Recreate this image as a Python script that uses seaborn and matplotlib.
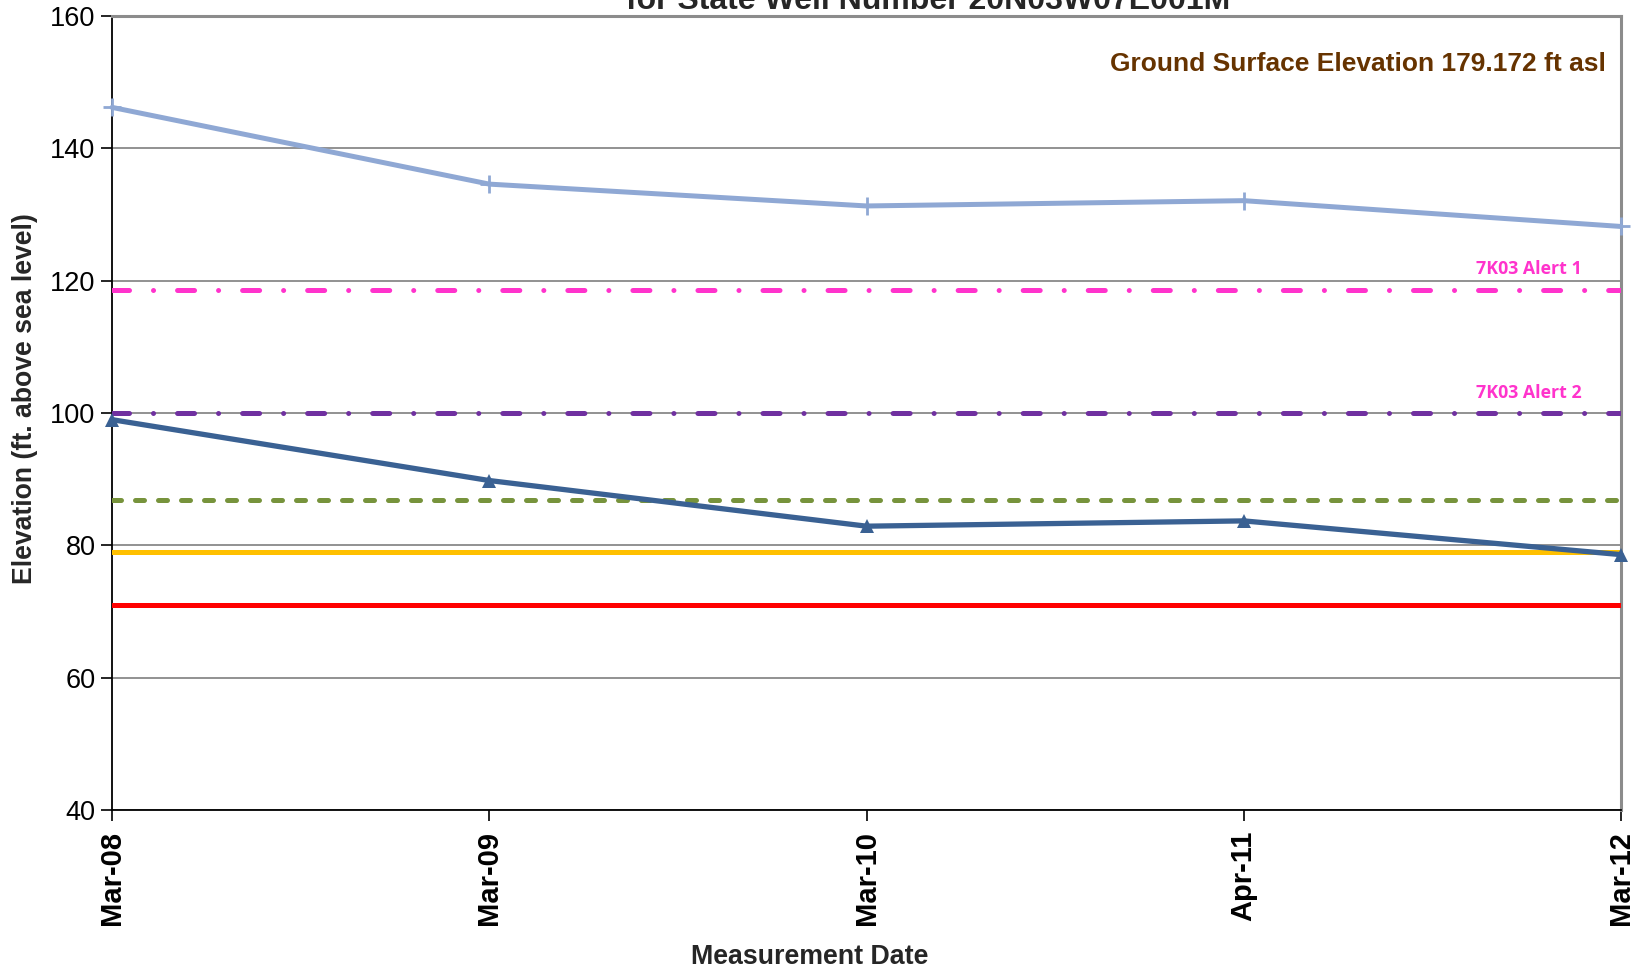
import numpy as np
import pandas as pd
import matplotlib
matplotlib.use('Agg')
import matplotlib.pyplot as plt
import seaborn as sns

# measurement dates (category axis, evenly spaced)
dates = ['Mar-08', 'Mar-09', 'Mar-10', 'Apr-11', 'Mar-12']
upper_series = [146.2, 134.6, 131.3, 132.1, 128.2]
lower_series = [99.0, 89.8, 82.9, 83.7, 78.6]

# horizontal threshold lines
alert1 = 118.6
alert2 = 100.0
green_level = 86.8
yellow_level = 79.0
red_level = 71.0

sns.set_theme(style='white')
plt.rcParams['font.family'] = ['Liberation Sans', 'DejaVu Sans']

fig = plt.figure(figsize=(16.43, 9.68), dpi=100)
ax = fig.add_axes([0.0682, 0.1632, 0.9184, 0.8202])

pos = np.arange(len(dates))
df = pd.DataFrame({'pos': pos, 'upper': upper_series, 'lower': lower_series})

ax.set_ylim(40, 160)
ax.set_xlim(0, len(dates) - 1)
ax.set_yticks(np.arange(40, 161, 20))
ax.grid(axis='y', color='#7f7f7f', lw=1.2)
ax.grid(axis='x', visible=False)
ax.set_axisbelow(True)

lw = 3.6
ax.axhline(red_level, color='#ff0000', lw=lw, zorder=3)
ax.axhline(yellow_level, color='#ffc000', lw=lw, zorder=4)
ax.axhline(green_level, color='#77933c', lw=lw, ls=(0, (1.8, 2.8)),
           dash_capstyle='round', zorder=3)
dashdot = (0, (3.4, 4.8, 0.01, 4.8))
ax.axhline(alert2, color='#7030a0', lw=lw, ls=dashdot,
           dash_capstyle='round', zorder=3)
ax.axhline(alert1, color='#ff33cc', lw=lw, ls=dashdot,
           dash_capstyle='round', zorder=3)

sns.lineplot(data=df, x='pos', y='upper', ax=ax, color='#8fa8d4', lw=3.6,
             marker='+', markersize=13, markeredgewidth=2,
             markeredgecolor='#8fa8d4', clip_on=False, zorder=5)
sns.lineplot(data=df, x='pos', y='lower', ax=ax, color='#3a6193', lw=3.8,
             marker='^', markersize=10.5, markeredgewidth=0,
             clip_on=False, zorder=5)

ax.set_xticks(pos)
ax.set_xticklabels(dates, rotation=90, fontsize=21, fontweight='bold',
                   va='top', ha='center')
ax.tick_params(axis='x', length=8, width=1.2, color='black', pad=7,
               bottom=True, direction='out', labelcolor='black')
ax.tick_params(axis='y', length=8, width=1.2, color='black', pad=4,
               left=True, direction='out', labelsize=19.5, labelcolor='black')

ax.set_xlabel('Measurement Date', fontsize=19.3, fontweight='bold',
              va='top')
ax.set_ylabel('Elevation (ft. above sea level)', fontsize=19.2,
              fontweight='bold')
ax.xaxis.set_label_coords(0.4626, -0.169)
ax.yaxis.set_label_coords(-0.049, 0.518)

for side in ['left', 'bottom']:
    ax.spines[side].set_color('black')
    ax.spines[side].set_linewidth(1.3)
for side in ['top', 'right']:
    ax.spines[side].set_color('#8c8c8c')
    ax.spines[side].set_linewidth(2.2)

ax.text(0.990, 152.7, 'Ground Surface Elevation 179.172 ft asl',
        transform=ax.get_yaxis_transform(), ha='right', va='center',
        fontsize=19, fontweight='bold', color='#663300')

label_font = ['Open Sans', 'DejaVu Sans']
ax.text(3.756, alert1 + 3.1, '7K03 Alert 1', ha='center', va='center',
        fontsize=12.8, fontweight='bold', color='#ff33cc', family=label_font)
ax.text(3.756, alert2 + 3.1, '7K03 Alert 2', ha='center', va='center',
        fontsize=12.8, fontweight='bold', color='#ff33cc', family=label_font)

fig.text(0.565, 0.9905, 'for State Well Number 20N03W07E001M',
         ha='center', va='baseline', fontsize=23, fontweight='bold')

fig.savefig('out.png', dpi=100)
